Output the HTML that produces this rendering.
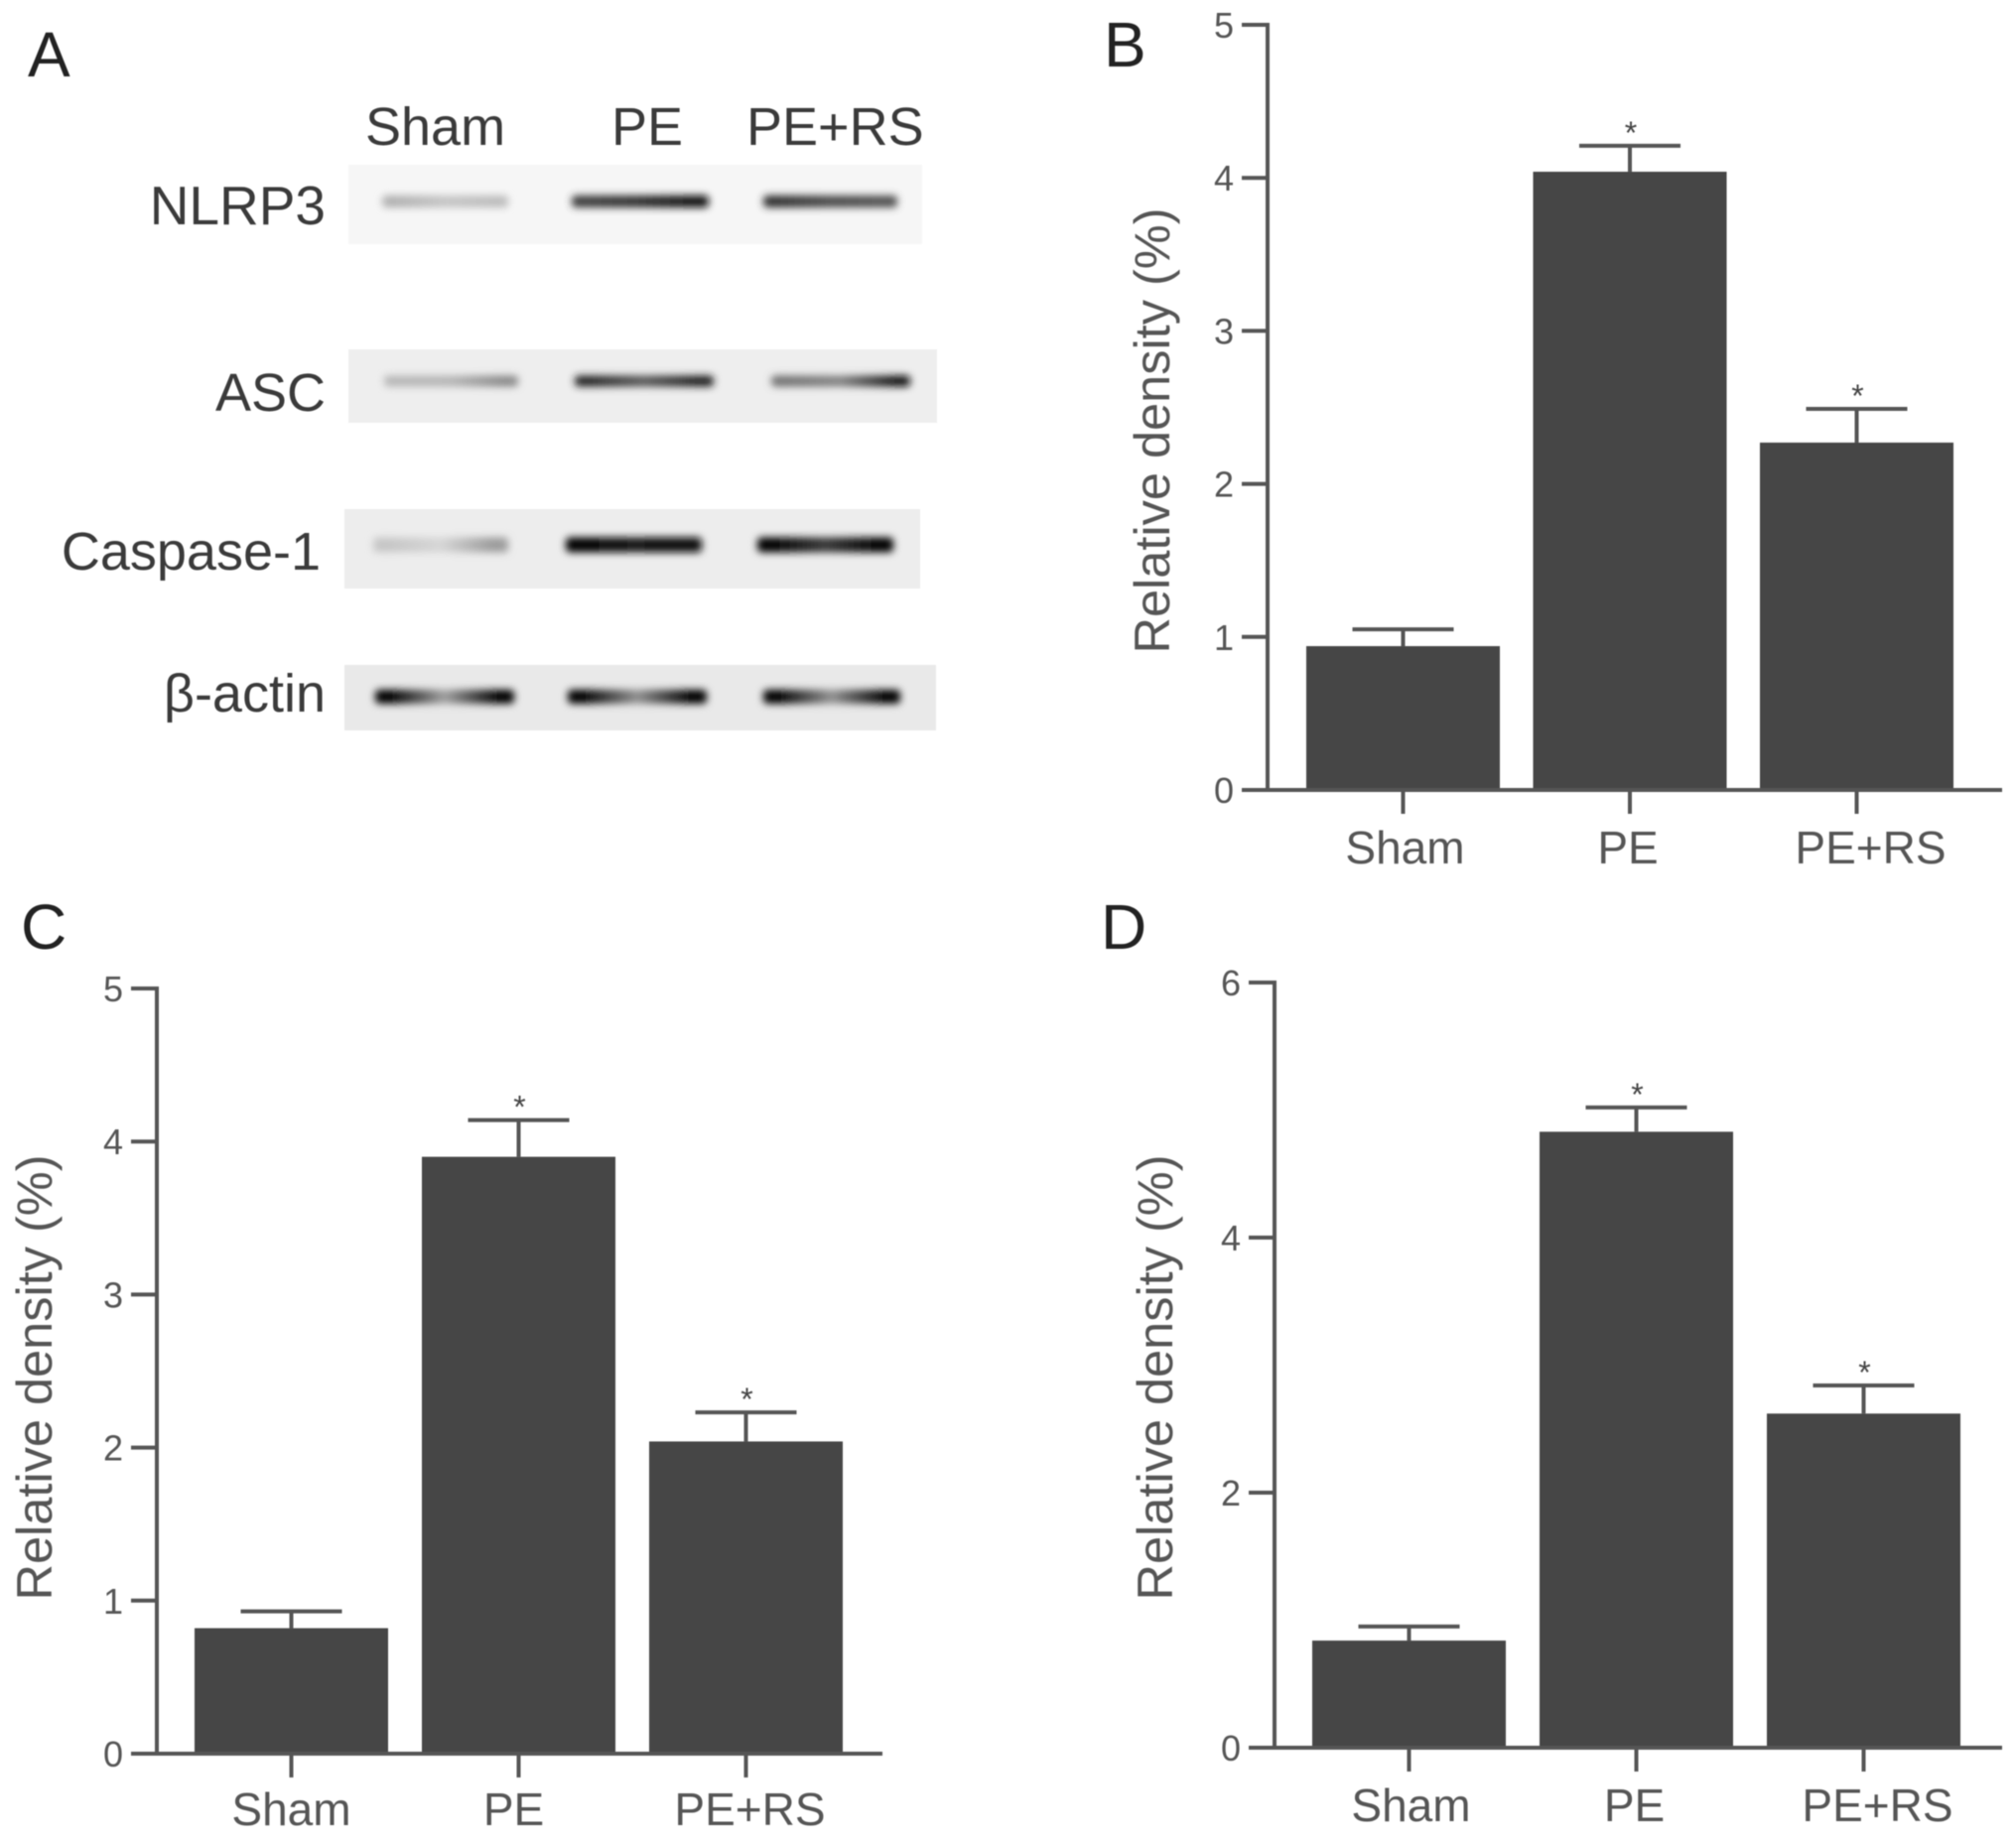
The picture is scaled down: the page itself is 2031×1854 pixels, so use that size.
<!DOCTYPE html>
<html lang="en">
<head>
<meta charset="utf-8">
<title>Relative density panels</title>
<style>
html,body{margin:0;padding:0;background:#fff;}
body{width:2031px;height:1854px;overflow:hidden;}
svg{display:block;font-family:"Liberation Sans",sans-serif;filter:blur(0.6px);}
</style>
</head>
<body>
<svg id="figure" xmlns="http://www.w3.org/2000/svg" width="2031" height="1854" viewBox="0 0 2031 1854">
  <defs>
    <filter id="band-blur" x="-20%" y="-200%" width="140%" height="500%"><feGaussianBlur stdDeviation="4"/></filter>
  </defs>
  <rect width="2031" height="1854" fill="#ffffff"/>
  <g font-size="64" fill="#222">
    <text x="28" y="77">A</text>
    <text x="1112" y="67">B</text>
    <text x="21" y="956">C</text>
    <text x="1109" y="956">D</text>
  </g>
  <g font-size="54" fill="#3a3a3a">
    <text x="368" y="146">Sham</text>
    <text x="616" y="146">PE</text>
    <text x="752" y="146">PE+RS</text>
    <text x="328" y="226" text-anchor="end" font-size="55">NLRP3</text>
    <text x="328" y="414" text-anchor="end">ASC</text>
    <text x="323" y="574" text-anchor="end">Caspase-1</text>
    <text x="328" y="717" text-anchor="end" font-family="'Liberation Sans','DejaVu Sans',sans-serif">β-actin</text>
    <g id="blots"></g>
  </g>
  <g id="charts"></g>
</svg>
<script>
// ---- Chart data ----
const categories = ['Sham', 'PE', 'PE+RS'];
const panelBValues = [0.94, 4.04, 2.27];
const panelBErrorTops = [1.05, 4.21, 2.49];
const panelBTicks = [0, 1, 2, 3, 4, 5];
const panelCValues = [0.82, 3.90, 2.04];
const panelCErrorTops = [0.93, 4.14, 2.23];
const panelCTicks = [0, 1, 2, 3, 4, 5];
const panelDValues = [0.84, 4.83, 2.62];
const panelDErrorTops = [0.95, 5.02, 2.84];
const panelDTicks = [0, 2, 4, 6];
const significant = [false, true, true];
const yTitle = 'Relative density (%)';

// ---- Blot appearance ----
const blotRowNames = ['nlrp3', 'asc', 'caspase-1', 'beta-actin'];
const blotShades = [
  [['#b0b0b0', '#c4c4c4', '#bcbcbc'], ['#3a3a3a', '#2c2c2c', '#0c0c0c'], ['#2f2f2f', '#484848', '#505050']],
  [['#b6b6b6', '#b4b4b4', '#888888'], ['#222222', '#555555', '#1c1c1c'], ['#707070', '#808080', '#111111']],
  [['#c6c6c6', '#d6d6d6', '#9c9c9c'], ['#000000', '#141414', '#080808'], ['#000000', '#383838', '#000000']],
  [['#000000', '#a0a0a0', '#000000'], ['#000000', '#909090', '#000000'], ['#000000', '#929292', '#000000']]
];

const SVG_NS = 'http://www.w3.org/2000/svg';
function mk(tag, parent) {
  const el = document.createElementNS(SVG_NS, tag);
  parent.appendChild(el);
  return el;
}

// ---- Blots ----
const blotLayout = [
  { x: 351, y: 166, w: 578, h: 80, bg: '#f6f6f6', bandY: 203, bandH: 12, lanes: [[385, 127], [576, 138], [769, 135]] },
  { x: 351, y: 352, w: 593, h: 74, bg: '#eeeeee', bandY: 384, bandH: 11, lanes: [[387, 135], [579, 140], [777, 140]] },
  { x: 347, y: 513, w: 580, h: 80, bg: '#ededed', bandY: 549, bandH: 15, lanes: [[376, 136], [570, 137], [763, 137]] },
  { x: 347, y: 670, w: 596, h: 66, bg: '#e9e9e9', bandY: 702, bandH: 14, lanes: [[378, 140], [572, 140], [769, 138]] }
];
const blotsGroup = document.getElementById('blots');
const defsEl = document.querySelector('defs');
blotLayout.forEach(function (row, r) {
  const strip = mk('rect', blotsGroup);
  
  
  strip.setAttribute('x', row.x);
  strip.setAttribute('y', row.y);
  strip.setAttribute('width', row.w);
  strip.setAttribute('height', row.h);
  strip.setAttribute('fill', row.bg);
  row.lanes.forEach(function (lane, l) {
    const gradId = 'band-grad-' + r + '-' + l;
    const grad = mk('linearGradient', defsEl);
    grad.setAttribute('id', gradId);
    [0.12, 0.5, 0.88].forEach(function (offset, s) {
      const stop = mk('stop', grad);
      stop.setAttribute('offset', offset);
      stop.setAttribute('stop-color', blotShades[r][l][s]);
    });
    const band = mk('rect', blotsGroup);
    
    
    band.setAttribute('x', lane[0]);
    band.setAttribute('y', row.bandY - row.bandH / 2);
    band.setAttribute('width', lane[1]);
    band.setAttribute('height', row.bandH);
    band.setAttribute('rx', 4);
    band.setAttribute('fill', 'url(#' + gradId + ')');
    band.setAttribute('filter', 'url(#band-blur)');
  });
});

// ---- Bar charts ----
const AXIS = '#555555';
const BAR = '#464646';
const LABEL = '#555555';

function drawChart(cfg) {
  const root = document.getElementById('charts');
  const g = mk('g', root);
  
  

  const yMax = cfg.ticks[cfg.ticks.length - 1];
  const yScale = function (v) { return cfg.bottom - (v / yMax) * (cfg.bottom - cfg.top); };
  const xBand = function (i) { return cfg.firstBar + i * cfg.step; };

  // bars, error bars and markers
  cfg.values.forEach(function (v, i) {
    const left = xBand(i);
    const center = left + cfg.barW / 2;

    const stem = mk('line', g);
    
    
    stem.setAttribute('x1', center);
    stem.setAttribute('x2', center);
    stem.setAttribute('y1', yScale(v));
    stem.setAttribute('y2', yScale(cfg.errorTops[i]));
    stem.setAttribute('stroke', AXIS);
    stem.setAttribute('stroke-width', 4);

    const cap = mk('line', g);
    
    
    cap.setAttribute('x1', center - 51);
    cap.setAttribute('x2', center + 51);
    cap.setAttribute('y1', yScale(cfg.errorTops[i]));
    cap.setAttribute('y2', yScale(cfg.errorTops[i]));
    cap.setAttribute('stroke', AXIS);
    cap.setAttribute('stroke-width', 4);

    const bar = mk('rect', g);
    
    
    bar.setAttribute('x', left);
    bar.setAttribute('y', yScale(v));
    bar.setAttribute('width', cfg.barW);
    bar.setAttribute('height', cfg.bottom - yScale(v));
    bar.setAttribute('fill', BAR);

    if (significant[i]) {
      const star = mk('text', g);
      
      
      star.setAttribute('x', center + 1);
      star.setAttribute('y', yScale(cfg.errorTops[i]) - 2);
      star.setAttribute('text-anchor', 'middle');
      star.setAttribute('font-size', 32);
      star.setAttribute('fill', '#444444');
      star.textContent = '*';
    }

    const tick = mk('line', g);
    
    
    tick.setAttribute('x1', center);
    tick.setAttribute('x2', center);
    tick.setAttribute('y1', cfg.bottom);
    tick.setAttribute('y2', cfg.bottom + 24);
    tick.setAttribute('stroke', AXIS);
    tick.setAttribute('stroke-width', 4);

    const label = mk('text', g);
    
    
    label.setAttribute('x', center + cfg.labelShift[i]);
    label.setAttribute('y', cfg.bottom + cfg.labelDrop);
    label.setAttribute('text-anchor', 'middle');
    label.setAttribute('font-size', 46);
    label.setAttribute('fill', LABEL);
    label.textContent = categories[i];
  });

  // axes
  const yAxis = mk('line', g);
  
  
  yAxis.setAttribute('x1', cfg.axisX);
  yAxis.setAttribute('x2', cfg.axisX);
  yAxis.setAttribute('y1', cfg.top - 2);
  yAxis.setAttribute('y2', cfg.bottom + 2);
  yAxis.setAttribute('stroke', AXIS);
  yAxis.setAttribute('stroke-width', 4);

  const xAxis = mk('line', g);
  
  
  xAxis.setAttribute('x1', cfg.axisX - 26);
  xAxis.setAttribute('x2', cfg.right);
  xAxis.setAttribute('y1', cfg.bottom);
  xAxis.setAttribute('y2', cfg.bottom);
  xAxis.setAttribute('stroke', AXIS);
  xAxis.setAttribute('stroke-width', 4);

  cfg.ticks.forEach(function (t) {
    const tick = mk('line', g);
    
    
    tick.setAttribute('x1', cfg.axisX - 26);
    tick.setAttribute('x2', cfg.axisX);
    tick.setAttribute('y1', yScale(t));
    tick.setAttribute('y2', yScale(t));
    tick.setAttribute('stroke', AXIS);
    tick.setAttribute('stroke-width', 4);

    const label = mk('text', g);
    
    
    label.setAttribute('x', cfg.axisX - 34);
    label.setAttribute('y', yScale(t) + 13);
    label.setAttribute('text-anchor', 'end');
    label.setAttribute('font-size', 36);
    label.setAttribute('fill', LABEL);
    label.textContent = String(t);
  });

  const title = mk('text', g);
  
  
  title.setAttribute('transform', 'translate(' + cfg.titleX + ',' + cfg.titleY + ') rotate(-90)');
  title.setAttribute('text-anchor', 'middle');
  title.setAttribute('font-size', 50.5);
  title.setAttribute('fill', LABEL);
  title.textContent = yTitle;
}

drawChart({ id: 'b', values: panelBValues, errorTops: panelBErrorTops, ticks: panelBTicks,
  axisX: 1277, top: 25, bottom: 796, right: 2017, firstBar: 1316, step: 228.5, barW: 195,
  labelShift: [2, -2, 14], labelDrop: 74, titleX: 1178, titleY: 434 });
drawChart({ id: 'c', values: panelCValues, errorTops: panelCErrorTops, ticks: panelCTicks,
  axisX: 158, top: 996, bottom: 1767, right: 889, firstBar: 196, step: 229, barW: 195,
  labelShift: [0, -5, 4], labelDrop: 72, titleX: 52, titleY: 1388 });
drawChart({ id: 'd', values: panelDValues, errorTops: panelDErrorTops, ticks: panelDTicks,
  axisX: 1284, top: 990, bottom: 1761, right: 2017, firstBar: 1322, step: 229, barW: 195,
  labelShift: [2, -2, 14], labelDrop: 74, titleX: 1181, titleY: 1388 });
</script>
</body>
</html>
